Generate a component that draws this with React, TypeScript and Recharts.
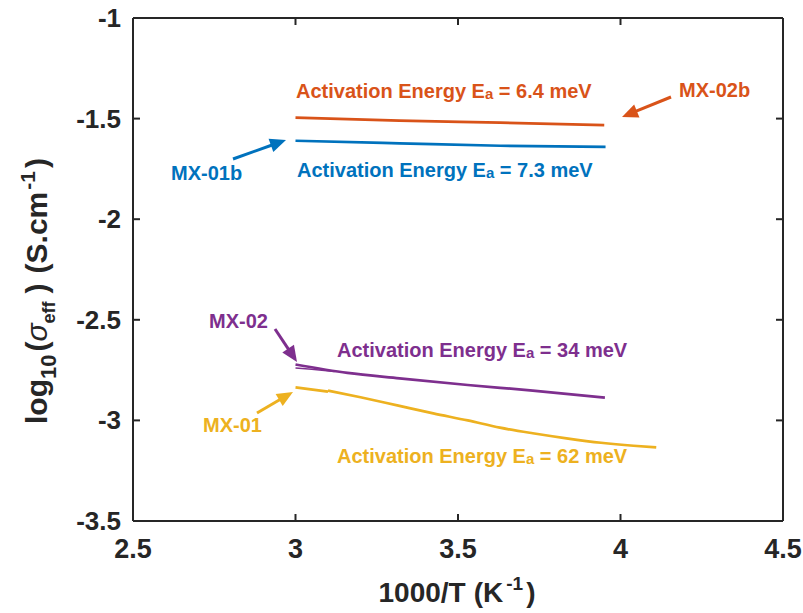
import React from 'react';
import { ComposedChart, Line, XAxis, YAxis } from 'recharts';

// ---- data ----
const xTicks = [2.5, 3, 3.5, 4, 4.5];
const yTicks = [-3.5, -3, -2.5, -2, -1.5, -1];

const mx02bX = [3.0, 3.32, 3.63, 3.95];
const mx02bY = [-1.495, -1.51, -1.52, -1.532];

const mx01bX = [3.0, 3.32, 3.63, 3.954];
const mx01bY = [-1.61, -1.623, -1.635, -1.641];

const mx02X = [3.0, 3.16, 3.32, 3.53, 3.73, 3.952];
const mx02Y = [-2.722, -2.764, -2.791, -2.824, -2.852, -2.887];

const mx02bisX = [3.0, 3.05, 3.12];
const mx02bisY = [-2.74, -2.746, -2.757];

const mx01aX = [3.0, 3.1];
const mx01aY = [-2.836, -2.857];

const mx01X = [3.1, 3.2, 3.32, 3.424, 3.53, 3.629, 3.73, 3.834, 3.94, 4.04, 4.11];
const mx01Y = [-2.852, -2.885, -2.928, -2.965, -3.0, -3.036, -3.064, -3.089, -3.111, -3.126, -3.134];

const zip = (xs: number[], ys: number[]) => xs.map((x, i) => ({ x, y: ys[i] }));

const C_ORANGE = '#D95319';
const C_BLUE = '#0072BD';
const C_PURPLE = '#7E2F8E';
const C_YELLOW = '#EDB120';
const AXIS = '#262626';
const FONT = '"Liberation Sans", Arial, Helvetica, sans-serif';
const TICK = 7;

const BottomTick = (p: any) => (
  <g>
    <line x1={p.x} y1={p.y} x2={p.x} y2={p.y - TICK} stroke={AXIS} strokeWidth={2} />
    <text x={p.x} y={p.y + 37} textAnchor="middle" fontFamily={FONT} fontWeight="bold" fontSize={27} fill={AXIS}>
      {p.payload.value}
    </text>
  </g>
);
const TopTick = (p: any) => (
  <line x1={p.x} y1={p.y} x2={p.x} y2={p.y + TICK} stroke={AXIS} strokeWidth={2} />
);
const LeftTick = (p: any) => (
  <g>
    <line x1={p.x} y1={p.y} x2={p.x + TICK} y2={p.y} stroke={AXIS} strokeWidth={2} />
    <text x={p.x - 12} y={p.y + 9} textAnchor="end" fontFamily={FONT} fontWeight="bold" fontSize={26} fill={AXIS}>
      {p.payload.value}
    </text>
  </g>
);
const RightTick = (p: any) => (
  <line x1={p.x} y1={p.y} x2={p.x - TICK} y2={p.y} stroke={AXIS} strokeWidth={2} />
);

const Arrow = ({ x1, y1, x2, y2, color }: any) => {
  const dx = x2 - x1;
  const dy = y2 - y1;
  const len = Math.sqrt(dx * dx + dy * dy);
  const ux = dx / len;
  const uy = dy / len;
  const hl = 16;
  const hw = 7;
  const bx = x2 - ux * hl;
  const by = y2 - uy * hl;
  const pts = `${x2},${y2} ${bx - uy * hw},${by + ux * hw} ${bx + uy * hw},${by - ux * hw}`;
  return (
    <g>
      <line x1={x1} y1={y1} x2={bx + ux * 2} y2={by + uy * 2} stroke={color} strokeWidth={3} />
      <polygon points={pts} fill={color} />
    </g>
  );
};

const Ea = ({ x, y, color, value }: any) => (
  <text x={x} y={y} fontFamily={FONT} fontWeight="bold" fontSize={20} fill={color}>
    Activation Energy E
    <tspan fontSize={15} dy={1}>a</tspan>
    <tspan dy={-1}>{` = ${value} meV`}</tspan>
  </text>
);

const Label = ({ x, y, color, text }: any) => (
  <text x={x} y={y} fontFamily={FONT} fontWeight="bold" fontSize={20} fill={color}>
    {text}
  </text>
);

const lineProps = { xAxisId: 'b', yAxisId: 'l', dataKey: 'y', dot: false, isAnimationActive: false };

export default function App() {
  return (
    <div style={{ position: 'absolute', left: 0, top: 0, width: 803, height: 613, background: '#fff' }}>
      <ComposedChart width={803} height={613} margin={{ top: 17, right: 19, bottom: 0, left: 0 }}>
        <XAxis
          xAxisId="b"
          dataKey="x"
          type="number"
          orientation="bottom"
          domain={[2.5, 4.5]}
          ticks={xTicks}
          interval={0}
          height={92}
          tickSize={0}
          tickMargin={0}
          tickLine={false}
          axisLine={{ stroke: AXIS, strokeWidth: 2 }}
          tick={<BottomTick />}
          allowDataOverflow
        />
        <XAxis
          xAxisId="t"
          dataKey="x"
          type="number"
          orientation="top"
          domain={[2.5, 4.5]}
          ticks={xTicks}
          interval={0}
          height={1}
          tickSize={0}
          tickMargin={0}
          tickLine={false}
          axisLine={{ stroke: AXIS, strokeWidth: 2 }}
          tick={<TopTick />}
          allowDataOverflow
        />
        <YAxis
          yAxisId="l"
          type="number"
          orientation="left"
          domain={[-3.5, -1]}
          ticks={yTicks}
          interval={0}
          width={133}
          tickSize={0}
          tickMargin={0}
          tickLine={false}
          axisLine={{ stroke: AXIS, strokeWidth: 2 }}
          tick={<LeftTick />}
          allowDataOverflow
        />
        <YAxis
          yAxisId="r"
          type="number"
          orientation="right"
          domain={[-3.5, -1]}
          ticks={yTicks}
          interval={0}
          width={1}
          tickSize={0}
          tickMargin={0}
          tickLine={false}
          axisLine={{ stroke: AXIS, strokeWidth: 2 }}
          tick={<RightTick />}
          allowDataOverflow
        />
        <Line {...lineProps} data={zip(mx02bX, mx02bY)} type="monotone" stroke={C_ORANGE} strokeWidth={2.7} />
        <Line {...lineProps} data={zip(mx01bX, mx01bY)} type="monotone" stroke={C_BLUE} strokeWidth={2.7} />
        <Line {...lineProps} data={zip(mx02X, mx02Y)} type="monotone" stroke={C_PURPLE} strokeWidth={2.7} />
        <Line {...lineProps} data={zip(mx02bisX, mx02bisY)} type="linear" stroke={C_PURPLE} strokeWidth={1.5} />
        <Line {...lineProps} data={zip(mx01aX, mx01aY)} type="linear" stroke={C_YELLOW} strokeWidth={2.7} />
        <Line {...lineProps} data={zip(mx01X, mx01Y)} type="monotone" stroke={C_YELLOW} strokeWidth={2.7} />
      </ComposedChart>
      <svg width={803} height={613} style={{ position: 'absolute', left: 0, top: 0, pointerEvents: 'none' }}>
        {/* axis titles */}
        <text x={457} y={602} textAnchor="middle" fontFamily={FONT} fontWeight="bold" fontSize={28} fill={AXIS}>
          1000/T
          <tspan dx={8}>(K</tspan>
          <tspan dx={3} dy={-12} fontSize={19}>-1</tspan>
          <tspan dx={3} dy={12}>)</tspan>
        </text>
        <text
          x={47}
          y={291}
          transform="rotate(-90 47 291)"
          textAnchor="middle"
          fontFamily={FONT}
          fontWeight="bold"
          fontSize={30}
          fill={AXIS}
        >
          log
          <tspan fontSize={22} dy={9}>10</tspan>
          <tspan dy={-9} dx={3}>(</tspan>
          <tspan fontStyle="italic" fontWeight="normal">σ</tspan>
          <tspan fontSize={18} dy={8}>eff</tspan>
          <tspan dy={-8} dx={8}>)</tspan>
          <tspan dx={10}>(S.cm</tspan>
          <tspan fontSize={21} dy={-12} dx={2}>-1</tspan>
          <tspan dy={12} dx={3}>)</tspan>
        </text>

        {/* annotations */}
        <Ea x={296} y={98} color={C_ORANGE} value="6.4" />
        <Ea x={297} y={177} color={C_BLUE} value="7.3" />
        <Ea x={337} y={357} color={C_PURPLE} value="34" />
        <Ea x={337} y={463} color={C_YELLOW} value="62" />

        <Label x={679} y={97} color={C_ORANGE} text="MX-02b" />
        <Label x={171} y={180} color={C_BLUE} text="MX-01b" />
        <Label x={209} y={328} color={C_PURPLE} text="MX-02" />
        <Label x={203} y={432} color={C_YELLOW} text="MX-01" />

        <Arrow x1={671} y1={97} x2={622} y2={117} color={C_ORANGE} />
        <Arrow x1={233} y1={159} x2={286} y2={140} color={C_BLUE} />
        <Arrow x1={275} y1={329} x2={297} y2={362} color={C_PURPLE} />
        <Arrow x1={257} y1={413} x2={293} y2={392} color={C_YELLOW} />
      </svg>
    </div>
  );
}
